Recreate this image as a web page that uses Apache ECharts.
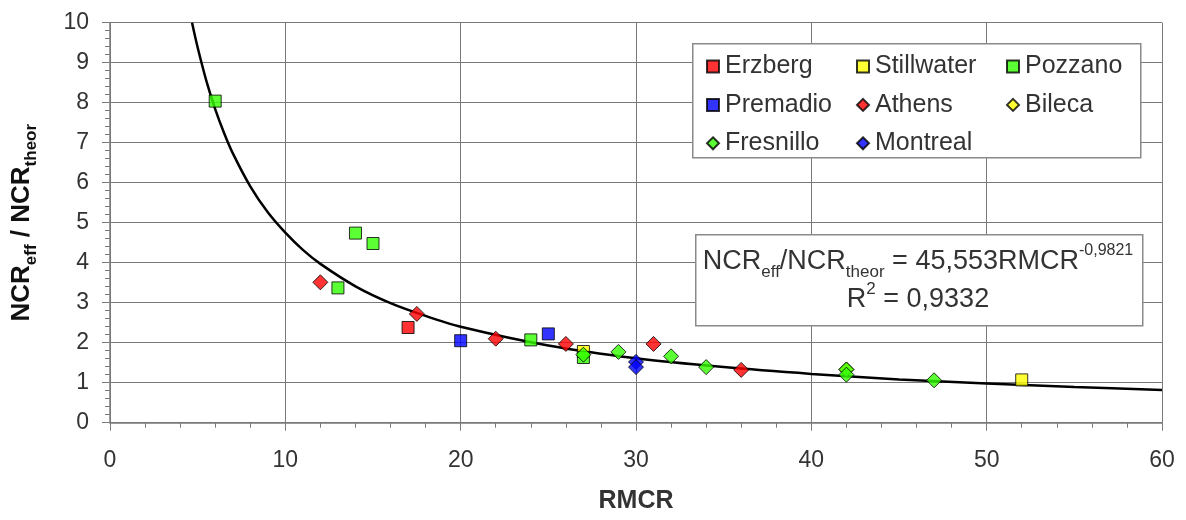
<!DOCTYPE html>
<html>
<head>
<meta charset="utf-8">
<script src="https://cdn.jsdelivr.net/npm/echarts@6/dist/echarts.min.js"></script>
<style>
html,body{margin:0;padding:0;background:#fff;}
#c{width:1186px;height:520px;}
</style>
</head>
<body>
<div id="c"></div>
<script>
// ---- data ----
const xTicks = [0, 10, 20, 30, 40, 50, 60];
const yTicks = [0, 1, 2, 3, 4, 5, 6, 7, 8, 9, 10];
const erzberg = [[17, 2.38]];
const stillwater = [[27, 1.78], [52, 1.07]];
const pozzano = [[6, 8.04], [13, 3.37], [14, 4.74], [15, 4.48], [24, 2.07], [27, 1.63]];
const premadio = [[20, 2.05], [25, 2.22]];
const athens = [[12, 3.51], [17.5, 2.72], [22, 2.1], [26, 1.97], [31, 1.97], [36, 1.32]];
const bileca = [[42, 1.33]];
const fresnillo = [[27, 1.7], [29, 1.77], [32, 1.66], [34, 1.39], [42, 1.33], [42, 1.2], [47, 1.06]];
const montreal = [[30, 1.52], [30, 1.39]];
// trend curve (power fit: 45,553 RMCR^-0,9821)
const trendX = [4.68, 5, 5.5, 6, 6.5, 7, 8, 9, 10, 11, 12, 14, 16, 18, 20, 25, 30, 35, 40, 45, 50, 55, 60];
const trendY = [10.0, 9.38, 8.54, 7.84, 7.25, 6.74, 5.91, 5.26, 4.75, 4.32, 3.97, 3.41, 2.99, 2.67, 2.40, 1.93, 1.61, 1.39, 1.22, 1.08, 0.98, 0.89, 0.82];

const FONT = '"Liberation Sans", Arial, sans-serif';
const TXT = '#333';

const chart = echarts.init(document.getElementById('c'), null, {renderer: 'canvas'});

function sc(name, data, color, symbol) {
  return {
    name: name, type: 'scatter', data: data,
    symbol: symbol, symbolSize: symbol === 'rect' ? 12 : 15,
    itemStyle: {color: color, borderColor: '#000', borderWidth: 1},
    z: 3
  };
}

const legendCommon = {
  orient: 'vertical', itemWidth: 12, itemHeight: 12, itemGap: 13.4,
  textStyle: {fontFamily: FONT, fontSize: 25, color: TXT, lineHeight: 25, padding: [0, 0, 0, 1]},
  selectedMode: false, top: 49, z: 20, zlevel: 0
};

const option = {
  backgroundColor: '#fff',
  animation: false,
  grid: {left: 110, right: 24, top: 22.7, bottom: 97.3, containLabel: false, outerBoundsMode: 'none'},
  xAxis: {
    type: 'value', min: 0, max: 60, interval: 10,
    name: 'RMCR', nameLocation: 'middle', nameGap: 66,
    nameTextStyle: {fontFamily: FONT, fontSize: 25, fontWeight: 'bold', color: TXT},
    axisLine: {show: true, lineStyle: {color: '#7a7a7a', width: 1.5}},
    axisTick: {show: true, length: 8, lineStyle: {color: '#7a7a7a'}},
    minorTick: {show: true, splitNumber: 5, length: 5, lineStyle: {color: '#7a7a7a'}},
    axisLabel: {fontFamily: FONT, fontSize: 23, color: TXT, margin: 26,
      formatter: v => xTicks.includes(v) ? String(v) : ''},
    splitLine: {show: true, lineStyle: {color: '#7a7a7a', width: 1}}
  },
  yAxis: {
    type: 'value', min: 0, max: 10, interval: 1,
    name: 'NCR{s|eff} / NCR{s|theor}', nameLocation: 'middle', nameGap: 70, nameRotate: 90,
    nameTextStyle: {fontFamily: FONT, fontSize: 26, fontWeight: 'bold', color: '#111', lineHeight: 36,
      rich: {s: {fontFamily: FONT, fontSize: 17, fontWeight: 'bold', color: '#111', lineHeight: 16, verticalAlign: 'bottom'}}},
    axisLine: {show: true, lineStyle: {color: '#7a7a7a', width: 1.5}},
    axisTick: {show: true, length: 8, lineStyle: {color: '#7a7a7a'}},
    minorTick: {show: true, splitNumber: 5, length: 5, lineStyle: {color: '#7a7a7a'}},
    axisLabel: {fontFamily: FONT, fontSize: 23, color: TXT, margin: 21,
      formatter: v => yTicks.includes(v) ? String(v) : ''},
    splitLine: {show: true, lineStyle: {color: '#7a7a7a', width: 1}}
  },
  legend: [
    Object.assign({}, legendCommon, {left: 701, data: [
      {name: 'Erzberg', icon: 'rect'}, {name: 'Premadio', icon: 'rect'}, {name: 'Fresnillo', icon: 'diamond'}]}),
    Object.assign({}, legendCommon, {left: 851, data: [
      {name: 'Stillwater', icon: 'rect'}, {name: 'Athens', icon: 'diamond'}, {name: 'Montreal', icon: 'diamond'}]}),
    Object.assign({}, legendCommon, {left: 1001, data: [
      {name: 'Pozzano', icon: 'rect'}, {name: 'Bileca', icon: 'diamond'}]})
  ],
  graphic: [
    {type: 'rect', left: 692, top: 43, shape: {width: 448, height: 114},
      style: {fill: '#fff', stroke: '#8a8a8a', lineWidth: 1.5}, z: 5},
    {type: 'rect', left: 695, top: 234, shape: {width: 447, height: 91},
      style: {fill: '#fff', stroke: '#8a8a8a', lineWidth: 1.5}, z: 5},
    {type: 'text', x: 918, y: 243, z: 11,
      style: {
        text: '{n|NCR}{b|eff}{n|/NCR}{b|theor}{n| = 45,553RMCR}{p|-0,9821}',
        align: 'center', fill: TXT, font: '27px ' + FONT,
        rich: {
          n: {fontFamily: FONT, fontSize: 27, lineHeight: 38, fill: TXT, color: TXT},
          b: {fontFamily: FONT, fontSize: 17, lineHeight: 15, verticalAlign: 'bottom', fill: TXT, color: TXT},
          p: {fontFamily: FONT, fontSize: 16, lineHeight: 20, verticalAlign: 'top', fill: TXT, color: TXT}
        }
      }},
    {type: 'text', x: 918, y: 281, z: 11,
      style: {
        text: '{n|R}{p|2}{n| = 0,9332}',
        align: 'center', fill: TXT, font: '27px ' + FONT,
        rich: {
          n: {fontFamily: FONT, fontSize: 27, lineHeight: 38, fill: TXT, color: TXT},
          p: {fontFamily: FONT, fontSize: 17, lineHeight: 20, verticalAlign: 'top', fill: TXT, color: TXT}
        }
      }}
  ],
  series: [
    {name: 'trend', type: 'line', data: trendX.map((x, i) => [x, trendY[i]]),
      smooth: 0.3, showSymbol: false, symbol: 'none', silent: true,
      lineStyle: {color: '#000', width: 2.5}, z: 2},
    sc('Erzberg', erzberg, '#ff0000', 'rect'),
    sc('Stillwater', stillwater, '#ffff00', 'rect'),
    sc('Pozzano', pozzano, '#33ff00', 'rect'),
    sc('Premadio', premadio, '#0000ff', 'rect'),
    sc('Athens', athens, '#ff0000', 'diamond'),
    sc('Bileca', bileca, '#ffff00', 'diamond'),
    sc('Fresnillo', fresnillo, '#33ff00', 'diamond'),
    sc('Montreal', montreal, '#0000ff', 'diamond')
  ]
};
chart.setOption(option);
</script>
</body>
</html>
